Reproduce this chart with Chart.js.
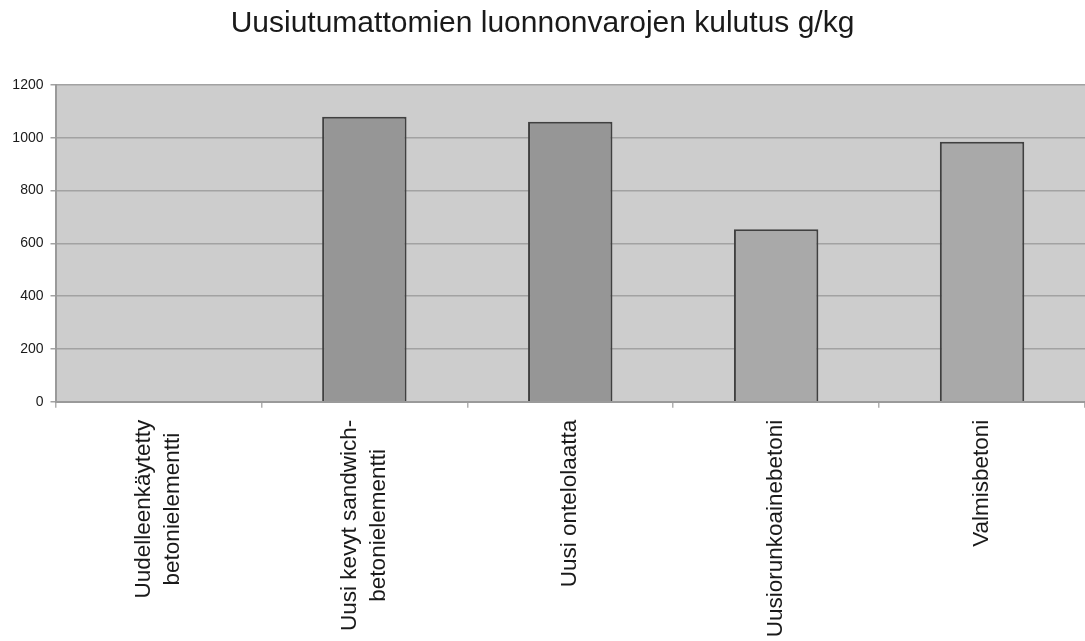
<!DOCTYPE html>
<html lang="fi">
<head>
<meta charset="utf-8">
<title>Uusiutumattomien luonnonvarojen kulutus g/kg</title>
<script src="https://cdn.jsdelivr.net/npm/chart.js@4/dist/chart.umd.min.js"></script>
<style>
  html, body { margin: 0; padding: 0; background: #ffffff; }
  #wrap { width: 1085px; height: 641px; }
</style>
</head>
<body>
<div id="wrap"><canvas id="chart" width="1085" height="641"></canvas></div>
<script>
// Categories (multi-line labels are arrays of lines)
const categories = [
  ["Uudelleenkäytetty", "betonielementti"],
  ["Uusi kevyt sandwich-", "betonielementti"],
  "Uusi ontelolaatta",
  "Uusiorunkoainebetoni",
  "Valmisbetoni"
];

// Consumption of non-renewable resources, g/kg
const values = [0, 1080, 1061, 653, 985];

// Value axis range and step
const yMin = 0;
const yMax = 1200;
const yStep = 200;

// Bar fills
const barColors = ["#969696", "#969696", "#969696", "#a9a9a9", "#a9a9a9"];

const FONT = "'Liberation Sans', Arial, Helvetica, sans-serif";

// Grey plot background
const plotBackground = {
  id: "plotBackground",
  beforeDraw(chart) {
    const { ctx, chartArea: a } = chart;
    ctx.save();
    ctx.fillStyle = "#cdcdcd";
    ctx.fillRect(a.left, a.top, a.right - a.left, a.bottom - a.top);
    ctx.restore();
  }
};

// Vertical category labels, lines centred on each other
const verticalLabels = {
  id: "verticalLabels",
  afterDraw(chart) {
    const { ctx } = chart;
    const xs = chart.scales.x;
    const top = chart.chartArea.bottom + 18;
    const lineGap = 29;
    ctx.save();
    ctx.font = "22.5px " + FONT;
    ctx.fillStyle = "#1a1a1a";
    ctx.textAlign = "center";
    ctx.textBaseline = "middle";
    categories.forEach((lab, i) => {
      const lines = Array.isArray(lab) ? lab : [lab];
      const w = Math.max(...lines.map(l => ctx.measureText(l).width));
      const cx = xs.getPixelForValue(i);
      const cy = top + w / 2;
      lines.forEach((line, k) => {
        const x = cx + (k - (lines.length - 1) / 2) * lineGap;
        ctx.save();
        ctx.translate(x, cy);
        ctx.rotate(-Math.PI / 2);
        ctx.fillText(line, 0, 0);
        ctx.restore();
      });
    });
    ctx.restore();
  }
};

new Chart(document.getElementById("chart"), {
  type: "bar",
  data: {
    labels: categories,
    datasets: [{
      data: values,
      backgroundColor: barColors,
      borderColor: "#404040",
      borderWidth: 2,
      barPercentage: 0.41,
      categoryPercentage: 1.0
    }]
  },
  options: {
    responsive: false,
    animation: false,
    devicePixelRatio: 1,
    layout: { padding: { left: 0, right: 0, top: 0, bottom: 0 } },
    plugins: {
      legend: { display: false },
      tooltip: { enabled: false },
      title: {
        display: true,
        text: "Uusiutumattomien luonnonvarojen kulutus g/kg",
        color: "#1a1a1a",
        font: { family: FONT, size: 30, weight: "normal", lineHeight: 1.2 },
        padding: { top: 5.5, bottom: 43.5 }
      }
    },
    scales: {
      x: {
        offset: true,
        afterFit(scale) { scale.height = 239.3; },
        grid: {
          offset: true,
          drawOnChartArea: false,
          drawTicks: true,
          tickLength: 6,
          color: "#b0b0b0",
          lineWidth: 1.5
        },
        border: { display: true, color: "#9a9a9a", width: 2 },
        ticks: { display: false }
      },
      y: {
        min: yMin,
        max: yMax,
        afterFit(scale) { scale.width = 55.5; },
        ticks: {
          stepSize: yStep,
          padding: 7,
          color: "#1a1a1a",
          font: { family: FONT, size: 14 },
          callback: (v) => String(v)
        },
        grid: {
          color: "#a2a2a2",
          lineWidth: 1.5,
          tickLength: 5,
          drawTicks: true
        },
        border: { display: true, color: "#9a9a9a", width: 2 }
      }
    }
  },
  plugins: [plotBackground, verticalLabels]
});
</script>
</body>
</html>
